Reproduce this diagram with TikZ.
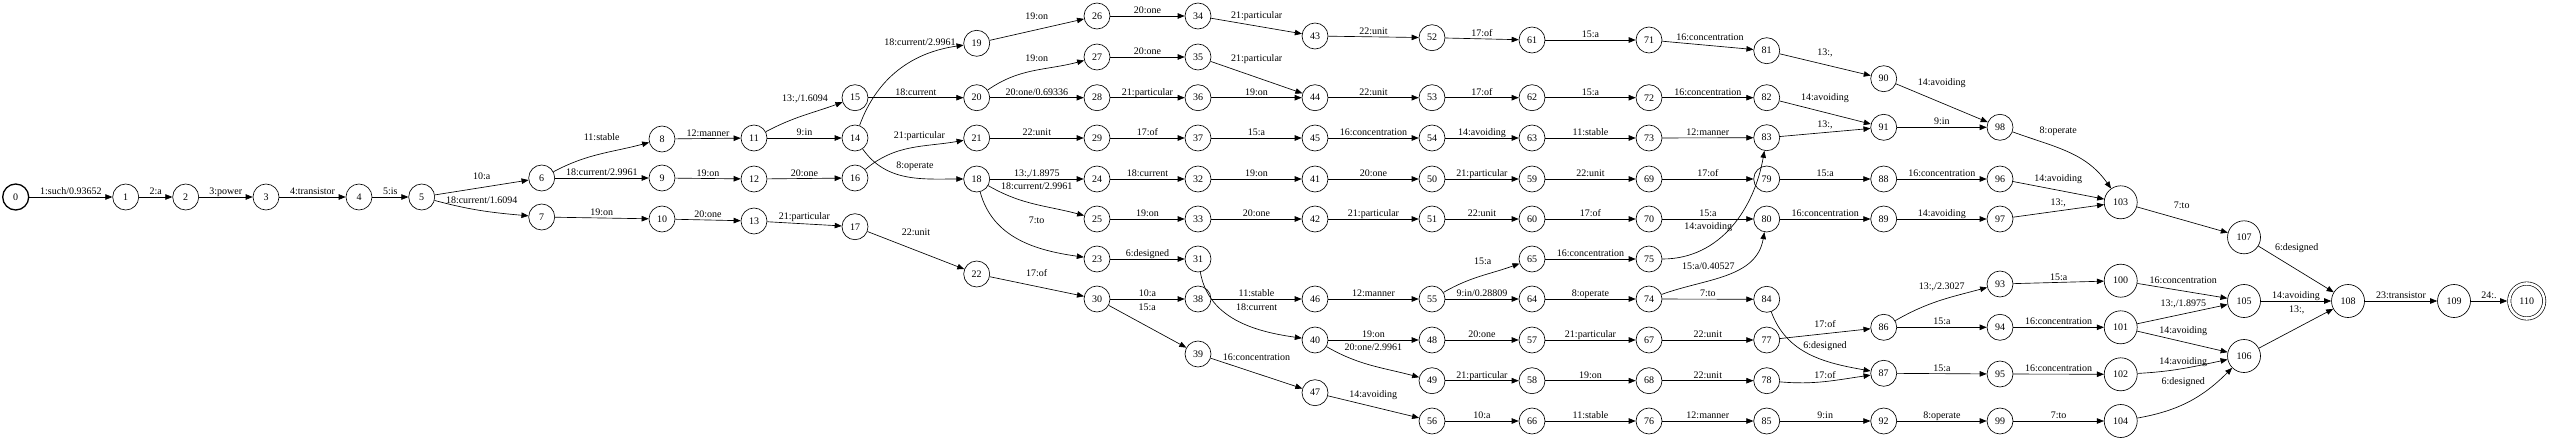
\documentclass[tikz,border=0pt]{standalone}
\usepackage{fontspec}
\setmainfont{Liberation Serif}
\usetikzlibrary{arrows.meta}

\begin{document}
\begin{tikzpicture}[x=1pt,y=-1pt,font=\fontsize{10}{12}\selectfont]

	\tikzset{state/.style = {shape=circle,draw,line width=0.65pt,minimum size=26pt,inner sep=0pt}}
	\tikzset{bigstate/.style = {state,minimum size=33pt}}
	\tikzset{edge/.style = {->,> = {Triangle[length=7pt,width=5.5pt]},line width=0.65pt}}
	\tikzset{lbl/.style = {inner sep=0pt,text height=7pt,text depth=2pt}}

	\useasboundingbox (0,0) rectangle (2550,441);

	\node[state,line width=1.3pt] (s0) at (15.7,197) {0};
	\node[state] (s1) at (125.7,197) {1};
	\node[state] (s2) at (185.7,197) {2};
	\node[state] (s3) at (266,197) {3};
	\node[state] (s4) at (359,197) {4};
	\node[state] (s5) at (421.7,197) {5};
	\node[state] (s6) at (541.7,178) {6};
	\node[state] (s7) at (541.7,217) {7};
	\node[state] (s8) at (662,139) {8};
	\node[state] (s9) at (662,178) {9};
	\node[state] (s10) at (662,219) {10};
	\node[state] (s11) at (754,138) {11};
	\node[state] (s12) at (754,179) {12};
	\node[state] (s13) at (754,221) {13};
	\node[state] (s14) at (855,138) {14};
	\node[state] (s15) at (855,97.7) {15};
	\node[state] (s16) at (855,178) {16};
	\node[state] (s17) at (855,226.7) {17};
	\node[state] (s18) at (976.7,179) {18};
	\node[state] (s19) at (976.7,43.3) {19};
	\node[state] (s20) at (976.7,97.7) {20};
	\node[state] (s21) at (976.7,138) {21};
	\node[state] (s22) at (976.7,274) {22};
	\node[state] (s23) at (1097,259) {23};
	\node[state] (s24) at (1097,179) {24};
	\node[state] (s25) at (1097,219) {25};
	\node[state] (s26) at (1097,16) {26};
	\node[state] (s27) at (1097,57) {27};
	\node[state] (s28) at (1097,97.7) {28};
	\node[state] (s29) at (1097,138) {29};
	\node[state] (s30) at (1097,299) {30};
	\node[state] (s31) at (1198,259) {31};
	\node[state] (s32) at (1198,179) {32};
	\node[state] (s33) at (1198,219) {33};
	\node[state] (s34) at (1198,16) {34};
	\node[state] (s35) at (1198,57) {35};
	\node[state] (s36) at (1198,97.7) {36};
	\node[state] (s37) at (1198,138) {37};
	\node[state] (s38) at (1198,299) {38};
	\node[state] (s39) at (1198,354) {39};
	\node[state] (s40) at (1315,340) {40};
	\node[state] (s41) at (1315,179) {41};
	\node[state] (s42) at (1315,219) {42};
	\node[state] (s43) at (1315,36) {43};
	\node[state] (s44) at (1315,97.7) {44};
	\node[state] (s45) at (1315,138) {45};
	\node[state] (s46) at (1315,299) {46};
	\node[state] (s47) at (1315,392.7) {47};
	\node[state] (s48) at (1432,340) {48};
	\node[state] (s49) at (1432,380.7) {49};
	\node[state] (s50) at (1432,179) {50};
	\node[state] (s51) at (1432,219) {51};
	\node[state] (s52) at (1432,37.7) {52};
	\node[state] (s53) at (1432,97.7) {53};
	\node[state] (s54) at (1432,138) {54};
	\node[state] (s55) at (1432,299) {55};
	\node[state] (s56) at (1432,421) {56};
	\node[state] (s57) at (1532,340) {57};
	\node[state] (s58) at (1532,380.7) {58};
	\node[state] (s59) at (1532,179) {59};
	\node[state] (s60) at (1532,219) {60};
	\node[state] (s61) at (1532,40) {61};
	\node[state] (s62) at (1532,97.7) {62};
	\node[state] (s63) at (1532,138) {63};
	\node[state] (s64) at (1532,299) {64};
	\node[state] (s65) at (1532,259) {65};
	\node[state] (s66) at (1532,421) {66};
	\node[state] (s67) at (1649,340) {67};
	\node[state] (s68) at (1649,380.7) {68};
	\node[state] (s69) at (1649,179) {69};
	\node[state] (s70) at (1649,219) {70};
	\node[state] (s71) at (1649,40) {71};
	\node[state] (s72) at (1649,97.7) {72};
	\node[state] (s73) at (1649,138) {73};
	\node[state] (s74) at (1649,299) {74};
	\node[state] (s75) at (1649,259) {75};
	\node[state] (s76) at (1649,421) {76};
	\node[state] (s77) at (1766.7,340) {77};
	\node[state] (s78) at (1766.7,380.7) {78};
	\node[state] (s79) at (1766.7,179) {79};
	\node[state] (s80) at (1766.7,219) {80};
	\node[state] (s81) at (1766.7,50.7) {81};
	\node[state] (s82) at (1766.7,97.7) {82};
	\node[state] (s83) at (1766.7,137.7) {83};
	\node[state] (s84) at (1766.7,299.3) {84};
	\node[state] (s85) at (1766.7,421) {85};
	\node[state] (s86) at (1883.7,327.3) {86};
	\node[state] (s87) at (1883.7,373.3) {87};
	\node[state] (s88) at (1883.7,179) {88};
	\node[state] (s89) at (1883.7,219) {89};
	\node[state] (s90) at (1883.7,78.7) {90};
	\node[state] (s91) at (1883.7,127.3) {91};
	\node[state] (s92) at (1883.7,421) {92};
	\node[state] (s93) at (2000,284) {93};
	\node[state] (s94) at (2000,327.3) {94};
	\node[state] (s95) at (2000,374) {95};
	\node[state] (s96) at (2000,179) {96};
	\node[state] (s97) at (2000,219) {97};
	\node[state] (s98) at (2000,127.3) {98};
	\node[state] (s99) at (2000,421) {99};
	\node[bigstate] (s100) at (2120.7,280.7) {100};
	\node[bigstate] (s101) at (2120.7,327.3) {101};
	\node[bigstate] (s102) at (2120.7,374.3) {102};
	\node[bigstate] (s103) at (2120.7,202.3) {103};
	\node[bigstate] (s104) at (2120.7,421) {104};
	\node[bigstate] (s105) at (2244,301) {105};
	\node[bigstate] (s106) at (2244,356) {106};
	\node[bigstate] (s107) at (2244,237.3) {107};
	\node[bigstate] (s108) at (2348,301) {108};
	\node[bigstate] (s109) at (2454,301) {109};
	\node[bigstate,double,double distance=2.6pt,minimum size=35pt,outer sep=2pt] (s110) at (2526.7,301) {110};

	\draw[edge] (s0) -- node[lbl,above] {1:such/0.93652} (s1);
	\draw[edge] (s1) -- node[lbl,above] {2:a} (s2);
	\draw[edge] (s2) -- node[lbl,above] {3:power} (s3);
	\draw[edge] (s3) -- node[lbl,above] {4:transistor} (s4);
	\draw[edge] (s4) -- node[lbl,above] {5:is} (s5);
	\draw[edge] (s5) -- (s6) node[lbl] at (481.7,176.7) {10:a};
	\draw[edge] (s5) to[out=-15,in=175] (s7) node[lbl] at (481.7,200.7) {18:current/1.6094};
	\draw[edge] (s6) to[out=28,in=195] (s8) node[lbl] at (601.7,138.3) {11:stable};
	\draw[edge] (s6) -- node[lbl,above] {18:current/2.9961} (s9);
	\draw[edge] (s7) -- node[lbl,above] {19:on} (s10);
	\draw[edge] (s8) -- node[lbl,above] {12:manner} (s11);
	\draw[edge] (s9) -- node[lbl,above] {19:on} (s12);
	\draw[edge] (s10) -- node[lbl,above] {20:one} (s13);
	\draw[edge] (s11) to[out=28,in=200] (s15) node[lbl] at (805,99.3) {13:,/1.6094};
	\draw[edge] (s11) -- node[lbl,above] {9:in} (s14);
	\draw[edge] (s12) -- node[lbl,above] {20:one} (s16);
	\draw[edge] (s13) -- (s17) node[lbl] at (804.3,217.3) {21:particular};

	\draw[edge] (s14) to[out=70,in=188] (s19) node[lbl] at (920,43.3) {18:current/2.9961};
	\draw[edge] (s15) -- node[lbl,above] {18:current} (s20);
	\draw[edge] (s16) to[out=40,in=190] (s21) node[lbl] at (919.3,136) {21:particular};
	\draw[edge] (s14) to[out=-55,in=180] (s18) node[lbl] at (915,165.7) {8:operate};
	\draw[edge] (s17) -- (s22) node[lbl] at (916,232.7) {22:unit};
	\draw[edge] (s19) -- (s26) node[lbl] at (1036.7,17.3) {19:on};
	\draw[edge] (s20) to[out=35,in=195] (s27) node[lbl] at (1036.7,59) {19:on};
	\draw[edge] (s20) -- node[lbl,above] {20:one/0.69336} (s28);
	\draw[edge] (s21) -- node[lbl,above] {22:unit} (s29);
	\draw[edge] (s18) -- node[lbl,above] {13:,/1.8975} (s24);
	\draw[edge] (s18) to[out=-30,in=165] (s25) node[lbl] at (1036.7,186.7) {18:current/2.9961};
	\draw[edge] (s18) to[out=-75,in=172] (s23) node[lbl] at (1036.7,221) {7:to};
	\draw[edge] (s22) -- (s30) node[lbl] at (1036.7,274.3) {17:of};

	\draw[edge] (s26) -- node[lbl,above] {20:one} (s34);
	\draw[edge] (s27) -- node[lbl,above] {20:one} (s35);
	\draw[edge] (s28) -- node[lbl,above] {21:particular} (s36);
	\draw[edge] (s29) -- node[lbl,above] {17:of} (s37);
	\draw[edge] (s24) -- node[lbl,above] {18:current} (s32);
	\draw[edge] (s25) -- node[lbl,above] {19:on} (s33);
	\draw[edge] (s23) -- node[lbl,above] {6:designed} (s31);
	\draw[edge] (s30) -- node[lbl,above] {10:a} (s38);
	\draw[edge] (s30) -- (s39) node[lbl] at (1147.3,308.3) {15:a};
	\draw[edge] (s34) -- (s43) node[lbl] at (1256.7,16.3) {21:particular};
	\draw[edge] (s35) -- (s44) node[lbl] at (1256.7,59.3) {21:particular};
	\draw[edge] (s36) -- node[lbl,above] {19:on} (s44);
	\draw[edge] (s37) -- node[lbl,above] {15:a} (s45);
	\draw[edge] (s32) -- node[lbl,above] {19:on} (s41);
	\draw[edge] (s33) -- node[lbl,above] {20:one} (s42);
	\draw[edge] (s31) to[out=-80,in=172] (s40) node[lbl] at (1256.7,308.3) {18:current};
	\draw[edge] (s38) -- node[lbl,above] {11:stable} (s46);
	\draw[edge] (s39) -- (s47) node[lbl] at (1256.5,357.7) {16:concentration};

	\draw[edge] (s43) -- node[lbl,above] {22:unit} (s52);
	\draw[edge] (s44) -- node[lbl,above] {22:unit} (s53);
	\draw[edge] (s45) -- node[lbl,above] {16:concentration} (s54);
	\draw[edge] (s41) -- node[lbl,above] {20:one} (s50);
	\draw[edge] (s42) -- node[lbl,above] {21:particular} (s51);
	\draw[edge] (s46) -- node[lbl,above] {12:manner} (s55);
	\draw[edge] (s40) -- node[lbl,above] {19:on} (s48);
	\draw[edge] (s40) to[out=-30,in=165] (s49) node[lbl] at (1373.3,348.3) {20:one/2.9961};
	\draw[edge] (s47) -- (s56) node[lbl] at (1373.3,395) {14:avoiding};
	\draw[edge] (s52) -- node[lbl,above] {17:of} (s61);
	\draw[edge] (s53) -- node[lbl,above] {17:of} (s62);
	\draw[edge] (s54) -- node[lbl,above] {14:avoiding} (s63);
	\draw[edge] (s50) -- node[lbl,above] {21:particular} (s59);
	\draw[edge] (s51) -- node[lbl,above] {22:unit} (s60);
	\draw[edge] (s55) to[out=30,in=200] (s65) node[lbl] at (1482.7,261.7) {15:a};
	\draw[edge] (s55) -- node[lbl,above] {9:in/0.28809} (s64);
	\draw[edge] (s48) -- node[lbl,above] {20:one} (s57);
	\draw[edge] (s49) -- node[lbl,above] {21:particular} (s58);
	\draw[edge] (s56) -- node[lbl,above] {10:a} (s66);
	\draw[edge] (s61) -- node[lbl,above] {15:a} (s71);
	\draw[edge] (s62) -- node[lbl,above] {15:a} (s72);
	\draw[edge] (s63) -- node[lbl,above] {11:stable} (s73);
	\draw[edge] (s59) -- node[lbl,above] {22:unit} (s69);
	\draw[edge] (s60) -- node[lbl,above] {17:of} (s70);
	\draw[edge] (s65) -- node[lbl,above] {16:concentration} (s75);
	\draw[edge] (s64) -- node[lbl,above] {8:operate} (s74);
	\draw[edge] (s57) -- node[lbl,above] {21:particular} (s67);
	\draw[edge] (s58) -- node[lbl,above] {19:on} (s68);
	\draw[edge] (s66) -- node[lbl,above] {11:stable} (s76);

	\draw[edge] (s71) -- (s81) node[lbl] at (1710,38.3) {16:concentration};
	\draw[edge] (s72) -- node[lbl,above] {16:concentration} (s82);
	\draw[edge] (s73) -- node[lbl,above] {12:manner} (s83);
	\draw[edge] (s69) -- node[lbl,above] {17:of} (s79);
	\draw[edge] (s70) -- node[lbl,above] {15:a} (s80);
	\draw[edge] (s75) to[out=0,in=-100] (s83) node[lbl] at (1708.3,226.7) {14:avoiding};
	\draw[edge] (s74) to[out=20,in=-100] (s80) node[lbl] at (1708.3,266.7) {15:a/0.40527};
	\draw[edge] (s74) -- node[lbl,above] {7:to} (s84);
	\draw[edge] (s67) -- node[lbl,above] {22:unit} (s77);
	\draw[edge] (s68) -- node[lbl,above] {22:unit} (s78);
	\draw[edge] (s76) -- node[lbl,above] {12:manner} (s85);
	\draw[edge] (s79) -- node[lbl,above] {15:a} (s88);
	\draw[edge] (s80) -- node[lbl,above] {16:concentration} (s89);
	\draw[edge] (s81) -- (s90) node[lbl] at (1825,52.7) {13:,};
	\draw[edge] (s82) -- (s91) node[lbl] at (1825,97.7) {14:avoiding};
	\draw[edge] (s83) -- (s91) node[lbl] at (1825,125) {13:,};
	\draw[edge] (s84) to[out=-70,in=170] (s87) node[lbl] at (1825,346) {6:designed};
	\draw[edge] (s77) -- (s86) node[lbl] at (1825,325) {17:of};
	\draw[edge] (s78) to[out=-5,in=188] (s87) node[lbl] at (1825,375.7) {17:of};
	\draw[edge] (s85) -- node[lbl,above] {9:in} (s92);

	\draw[edge] (s90) -- (s98) node[lbl] at (1941.7,82.7) {14:avoiding};
	\draw[edge] (s91) -- node[lbl,above] {9:in} (s98);
	\draw[edge] (s88) -- node[lbl,above] {16:concentration} (s96);
	\draw[edge] (s89) -- node[lbl,above] {14:avoiding} (s97);
	\draw[edge] (s86) to[out=30,in=195] (s93) node[lbl] at (1941.7,286.7) {13:,/2.3027};
	\draw[edge] (s86) -- node[lbl,above] {15:a} (s94);
	\draw[edge] (s87) -- node[lbl,above] {15:a} (s95);
	\draw[edge] (s92) -- node[lbl,above] {8:operate} (s99);
	\draw[edge] (s98) to[out=-20,in=125] (s103) node[lbl] at (2058.3,130.7) {8:operate};
	\draw[edge] (s96) -- (s103) node[lbl] at (2058.3,179) {14:avoiding};
	\draw[edge] (s97) -- (s103) node[lbl] at (2058.3,203.3) {13:,};
	\draw[edge] (s93) -- node[lbl,above] {15:a} (s100);
	\draw[edge] (s94) -- node[lbl,above] {16:concentration} (s101);
	\draw[edge] (s95) -- node[lbl,above] {16:concentration} (s102);
	\draw[edge] (s99) -- node[lbl,above] {7:to} (s104);

	\draw[edge] (s103) -- (s107) node[lbl] at (2181.7,205.7) {7:to};
	\draw[edge] (s100) -- (s105) node[lbl] at (2183.3,280.7) {16:concentration};
	\draw[edge] (s101) -- (s105) node[lbl] at (2183.3,304) {13:,/1.8975};
	\draw[edge] (s101) -- (s106) node[lbl] at (2183.3,330.7) {14:avoiding};
	\draw[edge] (s102) to[out=3,in=192] (s106) node[lbl] at (2183.3,361.7) {14:avoiding};
	\draw[edge] (s104) to[out=10,in=-135] (s106) node[lbl] at (2183.3,381.7) {6:designed};
	\draw[edge] (s107) -- (s108) node[lbl] at (2296.7,248.3) {6:designed};
	\draw[edge] (s105) -- node[lbl,above] {14:avoiding} (s108);
	\draw[edge] (s106) -- (s108) node[lbl] at (2296.7,310) {13:,};
	\draw[edge] (s108) -- node[lbl,above] {23:transistor} (s109);
	\draw[edge] (s109) -- node[lbl,above] {24:.} (s110);
\end{tikzpicture}
\end{document}
